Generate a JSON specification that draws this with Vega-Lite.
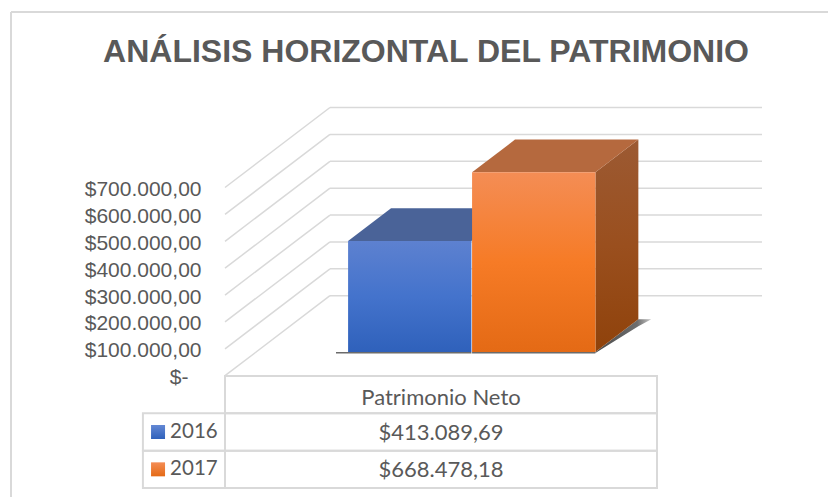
{
"$schema":"https://vega.github.io/schema/vega-lite/v6.json",
"width":828,"height":421,
"autosize":{"type":"none"},
"padding":{"left":0,"right":0,"top":76,"bottom":0},
"background":"white",
"config":{"view":{"stroke":null}},
"title":{"text":"ANÁLISIS HORIZONTAL DEL PATRIMONIO","font":"Liberation Sans","fontSize":32,"fontWeight":"bold","color":"#595959","anchor":"middle","frame":"group","dx":12,"offset":-58},
"datasets":{
"bars":[{"year":"2016","value":413089.69,"pos":0},{"year":"2017","value":668478.18,"pos":1}],
"ticks":[{"tick":0},{"tick":100000},{"tick":200000},{"tick":300000},{"tick":400000},{"tick":500000},{"tick":600000},{"tick":700000}],
"cells":[{"row":"Patrimonio Neto","from":0,"to":1},{"row":"2016","from":-0.19,"to":0},{"row":"2016","from":0,"to":1},{"row":"2017","from":-0.19,"to":0},{"row":"2017","from":0,"to":1}],
"labels":[{"row":"Patrimonio Neto","at":0.5,"text":"Patrimonio Neto"},{"row":"2016","at":-0.072,"text":"2016"},{"row":"2016","at":0.5,"text":"$413.089,69"},{"row":"2017","at":-0.072,"text":"2017"},{"row":"2017","at":0.5,"text":"$668.478,18"}],
"frame":[{"name":"chart frame"}]
},
"resolve":{"scale":{"y":"independent"}},
"layer":[
{"layer":[
{"data":{"name":"ticks"},"transform":[{"calculate":"datum.tick+297600","as":"back"}],
 "layer":[
 {"mark":{"type":"rule","color":"#d9d9d9","strokeWidth":1.5},
  "encoding":{
   "x":{"datum":0,"type":"quantitative","scale":{"domain":[-0.52083,1.39583],"nice":false,"zero":false},"axis":null},
   "x2":{"datum":0.243},
   "y":{"field":"tick","type":"quantitative","scale":{"domain":[-451236,1114884],"nice":false,"zero":false},
    "axis":{"title":null,"values":[0,100000,200000,300000,400000,500000,600000,700000],"domain":false,"ticks":false,"grid":false,"offset":-204,"labelOffset":2,"labelPadding":{"condition":{"test":"datum.value===0","value":16},"value":3},"labelFont":"Liberation Sans","labelFontSize":21,"labelColor":"#595959","labelExpr":"datum.value==0?'$-':'$'+format(datum.value/1000,'d')+'.000,00'"}},
   "y2":{"field":"back"}}},
 {"mark":{"type":"rule","color":"#d9d9d9","strokeWidth":1.5},
  "encoding":{"x":{"datum":0.243,"type":"quantitative"},"x2":{"datum":1.243},"y":{"field":"back","type":"quantitative"}}}
 ]},
{"data":{"name":"frame"},"mark":{"type":"rule","color":"#d9d9d9","strokeWidth":2},
 "encoding":{"x":{"datum":-0.4954,"type":"quantitative"},"x2":{"datum":1.39583},"y":{"datum":1352964,"type":"quantitative"}}},
{"data":{"name":"frame"},"mark":{"type":"rule","color":"#d9d9d9","strokeWidth":2},
 "encoding":{"x":{"datum":-0.4954,"type":"quantitative"},"y":{"datum":1352964,"type":"quantitative"},"y2":{"datum":-451236}}},
{"data":{"name":"bars"},
 "transform":[
  {"calculate":"0.213+datum.pos*0.287","as":"u0"},
  {"calculate":"datum.u0+0.2855","as":"u1"},
  {"calculate":"0.296*0.243","as":"s0"},
  {"calculate":"0.705*0.243","as":"s1"},
  {"calculate":"0.296*297600","as":"b0"},
  {"calculate":"0.705*297600","as":"b1"},
  {"calculate":"datum.u0+datum.s0","as":"fx0"},
  {"calculate":"datum.u1+datum.s0","as":"fx1"},
  {"calculate":"datum.value+datum.b0","as":"ftop"}
 ],
 "layer":[
 {"transform":[{"filter":"datum.year=='2017'"},{"calculate":"[0,1,2]","as":"k"},{"flatten":["k"]},
   {"calculate":"datum.k==0?datum.fx1:datum.k==1?datum.u1+datum.s1:datum.u1+datum.s1+0.03","as":"sx"},
   {"calculate":"datum.k==0?datum.b0:datum.b1","as":"sy"},
   {"calculate":"datum.k==0?datum.b0-3720:datum.k==1?datum.b1-26000:datum.b1","as":"sy2"}],
  "mark":{"type":"area","color":{"gradient":"linear","x1":0,"y1":0,"x2":1,"y2":0,"stops":[{"offset":0,"color":"#4a4a4a"},{"offset":0.75,"color":"#6e6e6e"},{"offset":1,"color":"#c8c8c8"}]}},
  "encoding":{"x":{"field":"sx","type":"quantitative"},"y":{"field":"sy","type":"quantitative"},"y2":{"field":"sy2"}}},
 {"transform":[{"calculate":"datum.fx0-(datum.pos==0?0.028:0)","as":"rx0"},{"calculate":"datum.b0-2800","as":"ry"}],
  "mark":{"type":"rule","color":"#6b6b6b","strokeWidth":1.5},
  "encoding":{"x":{"field":"rx0","type":"quantitative"},"x2":{"field":"fx1"},"y":{"field":"ry","type":"quantitative"}}},
 {"transform":[{"filter":"datum.year=='2016'"},{"calculate":"[0,1,2,3]","as":"k"},{"flatten":["k"]},
   {"calculate":"datum.k==0?datum.fx0:datum.k==1?datum.u0+datum.s1:datum.k==2?datum.fx1:datum.u1+datum.s1","as":"tx"},
   {"calculate":"datum.k==0?datum.ftop:datum.value+datum.b1","as":"ty"},
   {"calculate":"datum.k==3?datum.value+datum.b1:datum.ftop","as":"ty2"}],
  "mark":{"type":"area","color":"#4a6398"},
  "encoding":{"x":{"field":"tx","type":"quantitative"},"y":{"field":"ty","type":"quantitative"},"y2":{"field":"ty2"}}},
 {"transform":[{"filter":"datum.year=='2016'"}],
  "mark":{"type":"rect","color":{"gradient":"linear","x1":0,"y1":0,"x2":0,"y2":1,"stops":[{"offset":0,"color":"#5d81d0"},{"offset":0.5,"color":"#4473cc"},{"offset":1,"color":"#2f61bb"}]}},
  "encoding":{"x":{"field":"fx0","type":"quantitative"},"x2":{"field":"fx1"},"y":{"field":"ftop","type":"quantitative"},"y2":{"field":"b0"}}},
 {"transform":[{"filter":"datum.year=='2017'"},{"calculate":"[0,1]","as":"k"},{"flatten":["k"]},
   {"calculate":"datum.k==0?datum.fx1:datum.u1+datum.s1","as":"sx"},
   {"calculate":"datum.value+(datum.k==0?datum.b0:datum.b1)","as":"sy"},
   {"calculate":"datum.k==0?datum.b0:datum.b1","as":"sy2"}],
  "mark":{"type":"area","color":{"gradient":"linear","x1":0,"y1":0,"x2":0,"y2":1,"stops":[{"offset":0,"color":"#9c5a33"},{"offset":0.5,"color":"#9a4f1e"},{"offset":1,"color":"#8f420b"}]}},
  "encoding":{"x":{"field":"sx","type":"quantitative"},"y":{"field":"sy","type":"quantitative"},"y2":{"field":"sy2"}}},
 {"transform":[{"filter":"datum.year=='2017'"},{"calculate":"[0,1,2,3]","as":"k"},{"flatten":["k"]},
   {"calculate":"datum.k==0?datum.fx0:datum.k==1?datum.u0+datum.s1:datum.k==2?datum.fx1:datum.u1+datum.s1","as":"tx"},
   {"calculate":"datum.k==0?datum.ftop:datum.value+datum.b1","as":"ty"},
   {"calculate":"datum.k==3?datum.value+datum.b1:datum.ftop","as":"ty2"}],
  "mark":{"type":"area","color":"#b5693e"},
  "encoding":{"x":{"field":"tx","type":"quantitative"},"y":{"field":"ty","type":"quantitative"},"y2":{"field":"ty2"}}},
 {"transform":[{"filter":"datum.year=='2017'"}],
  "mark":{"type":"rect","color":{"gradient":"linear","x1":0,"y1":0,"x2":0,"y2":1,"stops":[{"offset":0,"color":"#f48d55"},{"offset":0.5,"color":"#f67b26"},{"offset":1,"color":"#e46a15"}]}},
  "encoding":{"x":{"field":"fx0","type":"quantitative"},"x2":{"field":"fx1"},"y":{"field":"ftop","type":"quantitative"},"y2":{"field":"b0"}}}
 ]}
]},
{"encoding":{"y":{"field":"row","type":"nominal","scale":{"type":"band","domain":["Patrimonio Neto","2016","2017"],"range":[300,412],"paddingInner":0,"paddingOuter":0},"axis":null}},
 "layer":[
 {"data":{"name":"cells"},"mark":{"type":"rect","fill":"transparent","stroke":"#d9d9d9","strokeWidth":2},
  "encoding":{"x":{"field":"from","type":"quantitative"},"x2":{"field":"to"}}},
 {"data":{"name":"labels"},"transform":[{"filter":"datum.row=='Patrimonio Neto'"}],"mark":{"type":"text","font":"Lato","fontSize":22,"color":"#595959","align":"center","baseline":"middle","dy":3},
  "encoding":{"x":{"field":"at","type":"quantitative"},"text":{"field":"text"}}},
 {"data":{"name":"labels"},"transform":[{"filter":"datum.row!='Patrimonio Neto' && datum.at>0"}],"mark":{"type":"text","font":"Lato","fontSize":22,"color":"#595959","align":"center","baseline":"middle","dy":0.5},
  "encoding":{"x":{"field":"at","type":"quantitative"},"text":{"field":"text"}}},
 {"data":{"name":"labels"},"transform":[{"filter":"datum.at<0"}],"mark":{"type":"text","font":"Lato","fontSize":20.5,"color":"#595959","align":"center","baseline":"middle","dy":0},
  "encoding":{"x":{"field":"at","type":"quantitative"},"text":{"field":"text"}}},
 {"data":{"name":"bars"},"transform":[{"filter":"datum.year=='2016'"}],
  "mark":{"type":"point","shape":"square","size":196,"filled":true,"opacity":1,"fill":{"gradient":"linear","x1":0,"y1":0,"x2":0,"y2":1,"stops":[{"offset":0,"color":"#6388d4"},{"offset":1,"color":"#2f61bb"}]}},
  "encoding":{"x":{"datum":-0.155,"type":"quantitative"},"y":{"field":"year","type":"nominal"}}},
 {"data":{"name":"bars"},"transform":[{"filter":"datum.year=='2017'"}],
  "mark":{"type":"point","shape":"square","size":196,"filled":true,"opacity":1,"fill":{"gradient":"linear","x1":0,"y1":0,"x2":0,"y2":1,"stops":[{"offset":0,"color":"#f48d55"},{"offset":1,"color":"#e46a15"}]}},
  "encoding":{"x":{"datum":-0.155,"type":"quantitative"},"y":{"field":"year","type":"nominal"}}}
 ]}
]
}
